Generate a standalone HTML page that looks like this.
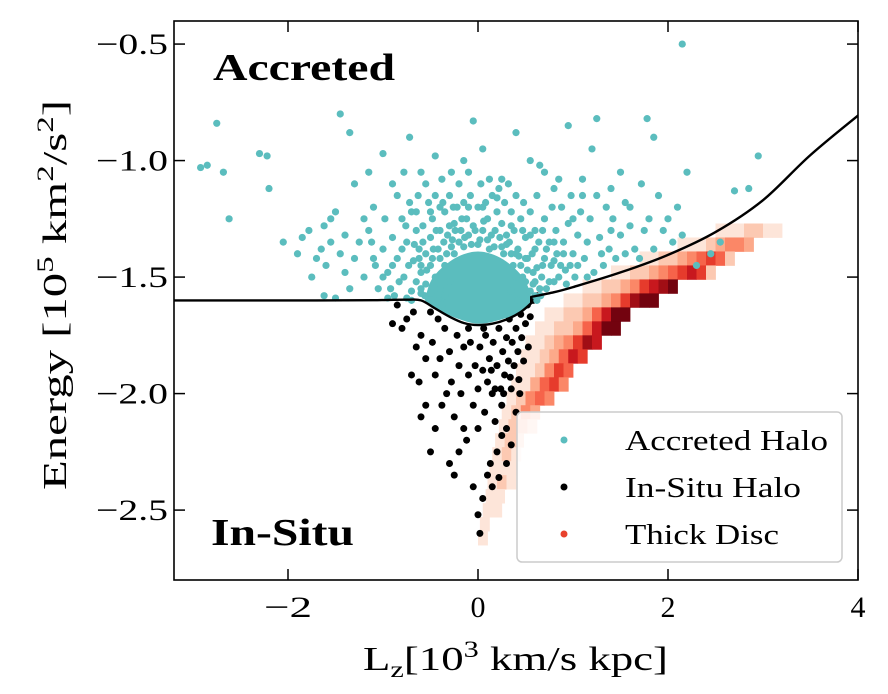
<!DOCTYPE html>
<html><head><meta charset="utf-8">
<style>
html,body{margin:0;padding:0;background:#fff;}
svg{display:block;}
text{font-family:"Liberation Serif","DejaVu Serif",serif;fill:#000;}
</style></head>
<body>
<svg id="chart" width="888" height="694" viewBox="0 0 888 694" xmlns="http://www.w3.org/2000/svg">
<defs><clipPath id="plotclip"><rect x="174" y="21" width="684" height="559"/></clipPath></defs>
<g id="plot" clip-path="url(#plotclip)"></g>
<g id="axes"></g>
<text x="213" y="80" font-size="38" font-weight="bold" textLength="182" lengthAdjust="spacingAndGlyphs">Accreted</text>
<text x="211" y="545" font-size="38" font-weight="bold" textLength="143" lengthAdjust="spacingAndGlyphs">In-Situ</text>
<text x="363" y="670" font-size="34" textLength="305" lengthAdjust="spacingAndGlyphs">L<tspan font-size="23" dy="7">z</tspan><tspan dy="-7">[10</tspan><tspan font-size="23" dy="-13">3</tspan><tspan dy="13"> km/s kpc]</tspan></text>
<text transform="translate(66,490) rotate(-90)" font-size="34" textLength="390" lengthAdjust="spacingAndGlyphs">Energy [10<tspan font-size="23" dy="-13">5</tspan><tspan dy="13"> km</tspan><tspan font-size="23" dy="-13">2</tspan><tspan dy="13">/s</tspan><tspan font-size="23" dy="-13">2</tspan><tspan dy="13">]</tspan></text>
<g>
<rect x="517" y="412" width="325" height="150" rx="5" fill="#fff" fill-opacity="0.85" stroke="#cccccc" stroke-width="1.5"/>
<g><circle cx="564" cy="440" r="3.5" fill="#5bbdbe"/><text x="625" y="450" font-size="29" textLength="203" lengthAdjust="spacingAndGlyphs">Accreted Halo</text></g>
<g><circle cx="564" cy="487" r="3.5" fill="#000"/><text x="625" y="497" font-size="29" textLength="176" lengthAdjust="spacingAndGlyphs">In-Situ Halo</text></g>
<g><circle cx="564" cy="534" r="3.5" fill="#e8412c"/><text x="625" y="544" font-size="29" textLength="154" lengthAdjust="spacingAndGlyphs">Thick Disc</text></g>
</g>
</svg>
<script>
const xTicks=[-2,0,2,4];
const xTickLabels=["\u22122","0","2","4"];
const yTicks=[-0.5,-1.0,-1.5,-2.0,-2.5];
const yTickLabels=["\u22120.5","\u22121.0","\u22121.5","\u22122.0","\u22122.5"];
const dipLz=[-3.3,-2.5,-1.7,-1.1,-0.75,-0.6,-0.45,-0.3,-0.15,0,0.15,0.3,0.45,0.56];
const dipE=[-1.6,-1.6,-1.6,-1.599,-1.597,-1.6,-1.635,-1.67,-1.697,-1.706,-1.7,-1.682,-1.65,-1.612];
const riseLz=[0.56,0.8,1.0,1.5,2.0,2.5,3.0,3.5,4.05];
const riseE=[-1.585,-1.565,-1.543,-1.48,-1.405,-1.307,-1.17,-0.976,-0.79];
const coreLz=[-0.56,-0.5,-0.38,-0.2,0,0.2,0.38,0.5,0.56,0.5,0.3,0,-0.3,-0.45];
const coreE=[-1.6,-1.52,-1.46,-1.41,-1.39,-1.41,-1.46,-1.52,-1.59,-1.64,-1.675,-1.7,-1.665,-1.635];
const heatE=[-1.30,-1.36,-1.42,-1.48,-1.54,-1.60,-1.66,-1.72,-1.78,-1.84,-1.90,-1.96,-2.02,-2.08,-2.14,-2.20,-2.26,-2.32,-2.38,-2.44,-2.50,-2.56,-2.62];
const heatStart=[2.5,2.1,1.7,1.4,1.1,0.9,0.7,0.6,0.5,0.45,0.4,0.35,0.3,0.25,0.22,0.18,0.15,0.12,0.1,0.08,0.05,0.02,0.0];
const heatVals=["1112211","11123443","1122345652","11223456762","1122346789","1122346899","112235799","112235799","11234687","1123576","112465","113564","12454","1243","1232","122","121","111","121","11","11","1","1"];
const accreted=[[-2.85,-1.02],[-2.92,-1.03],[-2.75,-0.84],[-2.68,-1.05],[-2.62,-1.25],[-2.3,-0.97],[-2.22,-0.98],[-2.2,-1.12],[-2.05,-1.35],[-1.78,-1.3],[-1.75,-1.5],[-1.65,-1.38],[-1.62,-1.28],[-1.55,-1.25],[-1.5,-1.22],[-1.45,-0.8],[-1.4,-1.32],[-1.35,-0.88],[-1.3,-1.1],[-1.2,-1.25],[-1.15,-1.05],[-1.1,-1.42],[-1.0,-0.97],[-0.85,-1.15],[-0.78,-1.05],[-0.72,-0.9],[-0.65,-1.3],[-0.6,-1.45],[-0.55,-1.1],[-0.45,-0.98],[-0.4,-1.2],[-0.28,-1.05],[-0.05,-0.83],[0.05,-0.95],[0.25,-1.08],[0.4,-0.88],[0.55,-1.0],[0.7,-1.05],[0.8,-1.12],[0.95,-0.85],[1.0,-1.25],[1.1,-1.15],[1.2,-0.95],[1.25,-0.82],[1.4,-1.3],[1.5,-1.05],[1.6,-1.2],[1.72,-1.1],[1.78,-0.82],[1.85,-0.9],[2.0,-1.25],[2.1,-1.2],[2.15,-0.5],[2.2,-1.05],[2.3,-1.45],[2.45,-1.4],[2.55,-1.35],[2.7,-1.13],[2.85,-1.12],[2.95,-0.98],[0.6,-1.3],[0.75,-1.35],[0.9,-1.4],[1.05,-1.45],[1.15,-1.5],[1.3,-1.4],
[-1.9,-1.4],[-1.85,-1.33],[-1.7,-1.42],[-1.6,-1.45],[-1.55,-1.35],[-1.45,-1.4],[-1.4,-1.48],[-1.35,-1.55],[-1.3,-1.42],[-1.25,-1.35],[-1.2,-1.5],[-1.15,-1.3],[-1.1,-1.2],[-1.05,-1.55],[-1.0,-1.38],[-0.98,-1.25],[-0.95,-1.48],[-0.9,-1.33],[-0.88,-1.58],[-0.85,-1.42],[-0.8,-1.25],[-0.78,-1.5],[-0.75,-1.35],[-0.72,-1.18],[-0.7,-1.56],[-0.68,-1.43],[-0.65,-1.22],[-0.62,-1.38],[-0.6,-1.55],[-0.58,-1.28],[-0.55,-1.4],[-0.52,-1.18],[-0.5,-1.33],[-0.48,-1.25],[-0.45,-1.15],[-0.42,-1.38],[-0.4,-1.3],[-0.38,-1.08],[-0.35,-1.22],[-0.32,-1.32],[-0.3,-1.15],[-0.25,-1.27],[-0.22,-1.2],[-0.2,-1.1],[-0.18,-1.3],[-0.15,-1.18],[-0.12,-1.25],[-0.1,-1.05],[-0.08,-1.15],[-0.05,-1.28],[0,-1.2],[0.03,-1.1],[0.05,-1.3],[0.08,-1.18],[0.1,-1.25],[0.12,-1.08],[0.15,-1.15],[0.18,-1.3],[0.2,-1.22],[0.22,-1.12],[0.25,-1.27],[0.28,-1.18],[0.3,-1.32],[0.32,-1.1],[0.35,-1.22],[0.38,-1.3],[0.4,-1.15],[0.42,-1.38],[0.45,-1.25],[0.48,-1.18],[0.5,-1.33],[0.52,-1.42],[0.55,-1.22],[0.58,-1.48],[0.6,-1.38],[0.62,-1.15],[0.65,-1.55],[0.68,-1.45],[0.7,-1.25],[0.72,-1.38],[0.75,-1.52],[0.78,-1.2],[0.8,-1.43],[0.82,-1.3],[0.85,-1.5],[0.88,-1.2],[0.9,-1.35],[0.92,-1.47],[0.95,-1.27],[0.98,-1.15],[1.0,-1.4],[1.02,-1.5],[1.05,-1.32],[1.08,-1.22],[1.12,-1.42],[1.15,-1.35],[1.18,-1.25],[1.22,-1.48],[1.25,-1.15],[1.28,-1.33],[1.32,-1.45],[1.35,-1.2],[1.38,-1.38],[1.42,-1.25],[1.45,-1.42],[1.5,-1.32],[1.55,-1.4],[1.6,-1.28],[1.65,-1.38],[1.7,-1.42],[1.75,-1.3],[1.8,-1.25],[1.85,-1.38],[1.9,-1.15],[1.95,-1.3],[2.05,-1.35],[2.15,-1.32],[1.4,-1.12],[1.55,-1.18],[1.1,-1.08],[0.85,-1.08],[0.65,-1.02],[-0.15,-1.0],[-0.6,-1.05],[-0.9,-1.1],
[-0.5,-1.45],[-0.45,-1.5],[-0.4,-1.55],[-0.5,-1.57],[-0.35,-1.45],[-0.3,-1.52],[-0.25,-1.4],[-0.6,-1.48],[0.45,-1.45],[0.5,-1.52],[0.4,-1.5],[0.55,-1.56],[0.35,-1.4],[0.3,-1.36],[-0.1,-1.32],[0.1,-1.34],[-0.7,-1.6],[-0.75,-1.59],[-0.95,-1.59],[-1.5,-1.59],[-1.62,-1.58],
[-0.65,-1.52],[-0.62,-1.42],[-0.58,-1.35],[-0.56,-1.58],[-0.54,-1.47],[-0.47,-1.38],[-0.44,-1.3],[-0.42,-1.6],[-0.36,-1.35],[-0.33,-1.4],[-0.3,-1.28],[-0.27,-1.34],[-0.24,-1.3],[-0.2,-1.35],[-0.17,-1.25],[-0.14,-1.33],[-0.07,-1.36],[-0.03,-1.3],[0.02,-1.34],[0.06,-1.26],[0.14,-1.32],[0.17,-1.37],[0.23,-1.33],[0.27,-1.4],[0.33,-1.35],[0.37,-1.45],[0.43,-1.41],[0.47,-1.5],[0.52,-1.47],[0.57,-1.4],[0.6,-1.52],[0.62,-1.46],[0.64,-1.35],[0.67,-1.5],[0.7,-1.42],[0.72,-1.55],[0.77,-1.45],[0.8,-1.52],[0.83,-1.4],[0.87,-1.45],[0.93,-1.53],[0.97,-1.45],[0.6,-1.58],[0.66,-1.58],[-0.67,-1.36],[-0.73,-1.45],[-0.8,-1.38],[-0.83,-1.52],[-0.9,-1.45],[-0.92,-1.55],[-1.0,-1.5],[-1.08,-1.45],[-1.12,-1.35],[-0.76,-1.28],[-0.7,-1.22],[-0.63,-1.15],[-0.5,-1.22],[-0.37,-1.18],[-0.26,-1.2],[-0.1,-1.2],[0.05,-1.2],[0.2,-1.16],[0.35,-1.28],[0.47,-1.3],[0.55,-1.32],[0.68,-1.3],[0.8,-1.35],[-0.35,-1.58],[-0.38,-1.62],[0.42,-1.6],[0.35,-1.56],
[-0.6,-1.57],[-0.55,-1.53],[-0.48,-1.42],[-0.4,-1.42],[-0.28,-1.37],[-0.15,-1.37],[0.0,-1.36],[0.12,-1.38],[0.25,-1.37],[0.4,-1.4],[0.5,-1.42],[0.58,-1.53],[0.62,-1.6]];
const insitu=[[-0.85,-1.62],[-0.8,-1.72],[-0.75,-1.68],[-0.65,-1.8],[-0.62,-1.95],[-0.6,-1.75],[-0.55,-1.85],[-0.5,-1.65],[-0.48,-1.78],[-0.45,-1.92],[-0.4,-1.85],[-0.38,-2.05],[-0.35,-1.72],[-0.3,-1.82],[-0.28,-1.95],[-0.25,-2.1],[-0.22,-1.75],[-0.2,-1.88],[-0.18,-2.0],[-0.15,-1.8],[-0.12,-2.2],[-0.1,-1.92],[-0.08,-1.78],[-0.05,-2.05],[-0.03,-1.88],[0,-1.98],[0,-2.15],[0.02,-1.8],[0.05,-1.9],[0.07,-2.08],[0.08,-1.75],[0.1,-1.95],[0.12,-1.85],[0.13,-2.3],[0.15,-2.0],[0.16,-1.78],[0.18,-2.12],[0.2,-1.88],[0.2,-2.25],[0.22,-1.72],[0.24,-1.98],[0.25,-2.05],[0.26,-1.82],[0.28,-1.92],[0.3,-1.76],[0.3,-2.15],[0.32,-1.86],[0.33,-1.68],[0.35,-1.98],[0.36,-1.78],[0.38,-1.88],[0.4,-1.72],[0.4,-2.08],[0.42,-1.82],[0.43,-1.94],[0.45,-1.66],[0.46,-1.76],[0.48,-1.86],[0.5,-1.7],[0.52,-1.62],[0.53,-1.8],[0.55,-1.67],[0.58,-1.6],[0.62,-1.58],[0.1,-2.35],[0.05,-2.45],[0.0,-2.52],[0.02,-2.6],[-0.05,-2.4],[0.15,-2.4],[0.22,-2.36],[-0.2,-2.25],[-0.15,-2.15],[-0.3,-2.3],[-0.45,-2.15],[-0.55,-2.05],[-0.7,-1.92],[-0.5,-2.25],[0.3,-2.3],[0.25,-2.18],[0.35,-2.22],[-0.9,-1.7],[-0.68,-1.65],[-0.42,-1.68],[0.06,-1.72],[-0.1,-1.72],[0.14,-1.9],[0.27,-2.0],[0.38,-1.65],[0.44,-2.0],[-0.33,-2.0],[-0.6,-2.1],[-0.25,-2.35],[0.18,-1.98],[0.34,-1.93]];

const X0=174,X1=858,Y0=21,Y1=580,LMIN=-3.2,LMAX=4.0,EMIN=-2.8,EMAX=-0.401;
function xs(v){return X0+(v-LMIN)/(LMAX-LMIN)*(X1-X0);}
function ys(v){return Y1-(v-EMIN)/(EMAX-EMIN)*(Y1-Y0);}
const NS="http://www.w3.org/2000/svg";
const plot=document.getElementById('plot');
const axes=document.getElementById('axes');
function mk(tag,attrs,parent){const e=document.createElementNS(NS,tag);for(const k in attrs)e.setAttribute(k,attrs[k]);parent.appendChild(e);return e;}
const reds=["#ffffff","#fde5d9","#fcc9b2","#fca98a","#fb8767","#f6634a","#e63b2c","#c8181e","#a10e15","#73030f"];
function smooth(px,start){let d=(start?'M':'L')+px[0][0].toFixed(1)+','+px[0][1].toFixed(1);
  for(let i=0;i<px.length-1;i++){const p0=px[Math.max(0,i-1)],p1=px[i],p2=px[i+1],p3=px[Math.min(px.length-1,i+2)];
    const c1=[p1[0]+(p2[0]-p0[0])/6,p1[1]+(p2[1]-p0[1])/6],c2=[p2[0]-(p3[0]-p1[0])/6,p2[1]-(p3[1]-p1[1])/6];
    d+=' C'+c1.map(v=>v.toFixed(1)).join(',')+' '+c2.map(v=>v.toFixed(1)).join(',')+' '+p2.map(v=>v.toFixed(1)).join(',');}
  return d;}

// heatmap
const gHeat=mk('g',{},plot);


const cw=0.1,ch=0.06;
for(let r=0;r<heatE.length;r++){
  const s=heatVals[r];
  for(let c=0;c<s.length;c++){
    const v=+s[c];
    const lz=heatStart[r]+c*cw;
    const x=xs(lz),y=ys(heatE[r]+ch/2);
    const rc=mk('rect',{x:x,y:y,width:xs(lz+cw)-x+0.4,height:ys(heatE[r]-ch/2)-y+0.4,fill:reds[v]},gHeat);
    
    
  }
}
// in-situ
const gIn=mk('g',{fill:'#000'},plot);


insitu.forEach(p=>{const c=mk('circle',{cx:xs(p[0]),cy:ys(p[1]),r:3.5},gIn);
  
  });
// accreted
const gAc=mk('g',{fill:'#5bbdbe'},plot);


const corePx=coreLz.map((v,i)=>[xs(v),ys(coreE[i])]);corePx.push(corePx[0]);
const core=mk('path',{d:smooth(corePx,true)+'Z',fill:'#5bbdbe'},gAc);


accreted.forEach(p=>{const c=mk('circle',{cx:xs(p[0]),cy:ys(p[1]),r:3.6},gAc);
  
  });
// boundary
const bd=smooth(dipLz.map((v,i)=>[xs(v),ys(dipE[i])]),true)+' '+smooth(riseLz.map((v,i)=>[xs(v),ys(riseE[i])]),false);
const bl=mk('path',{d:bd,fill:'none',stroke:'#000','stroke-width':2.4,'stroke-linejoin':'round'},plot);



// frame & ticks
const fr=mk('rect',{x:X0,y:Y0,width:X1-X0,height:Y1-Y0,fill:'none',stroke:'#000','stroke-width':1.6},axes);


xTicks.forEach((t,i)=>{const x=xs(t);
  const a=mk('line',{x1:x,x2:x,y1:Y1,y2:Y1-11,stroke:'#000','stroke-width':1.5},axes);
  
  
  const b=mk('line',{x1:x,x2:x,y1:Y0,y2:Y0+11,stroke:'#000','stroke-width':1.5},axes);
  
  
  const lab=xTickLabels[i];
  const tx=mk('text',{x:x,y:617,'font-size':30,'text-anchor':'middle'},axes);
  if(lab.length>1){tx.setAttribute('textLength',48);tx.setAttribute('lengthAdjust','spacingAndGlyphs');}
  tx.textContent=lab;
  
  });
yTicks.forEach((t,i)=>{const y=ys(t);
  const a=mk('line',{x1:X0,x2:X0+11,y1:y,y2:y,stroke:'#000','stroke-width':1.5},axes);
  
  
  const b=mk('line',{x1:X1,x2:X1-11,y1:y,y2:y,stroke:'#000','stroke-width':1.5},axes);
  
  
  const tx=mk('text',{x:96,y:y+10,'font-size':30,textLength:72,lengthAdjust:'spacingAndGlyphs'},axes);tx.textContent=yTickLabels[i];
  
  });
</script>
</body></html>
